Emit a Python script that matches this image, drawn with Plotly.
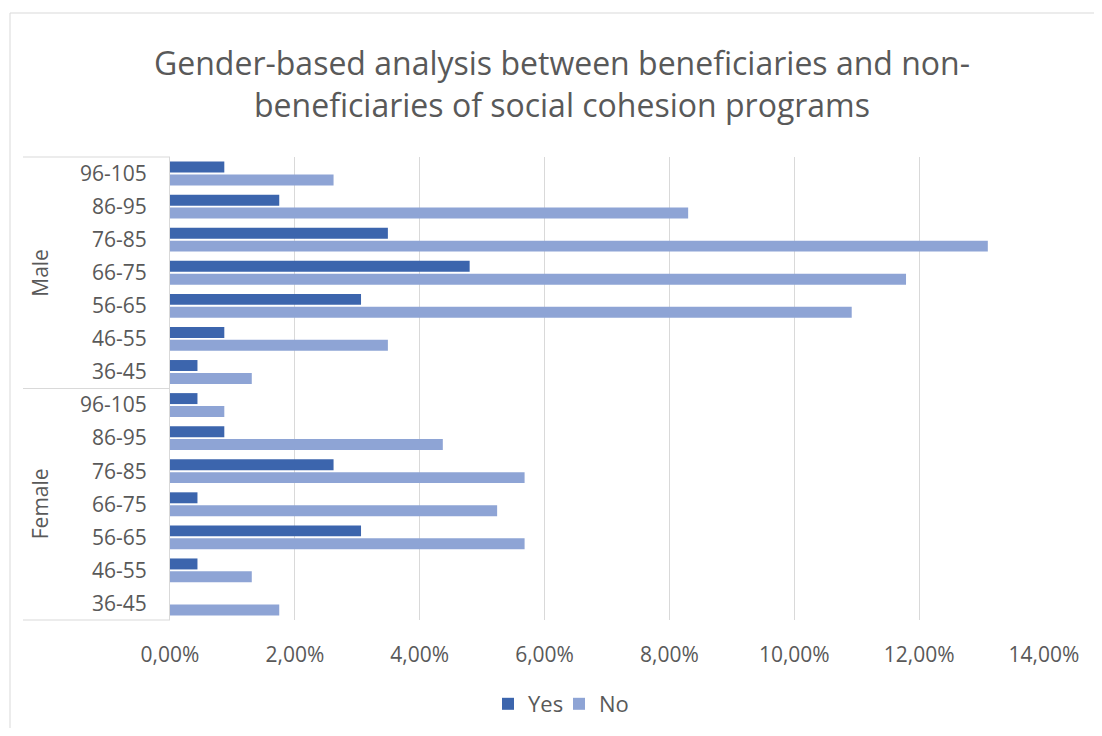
import plotly.graph_objects as go

ages = ["36-45", "46-55", "56-65", "66-75", "76-85", "86-95", "96-105"]
genders = ["Female", "Male"]

yes_female = [0.0000, 0.0044, 0.0306, 0.0044, 0.0262, 0.0087, 0.0044]
no_female = [0.0175, 0.0131, 0.0568, 0.0524, 0.0568, 0.0437, 0.0087]
yes_male = [0.0044, 0.0087, 0.0306, 0.0480, 0.0349, 0.0175, 0.0087]
no_male = [0.0131, 0.0349, 0.1092, 0.1179, 0.1310, 0.0830, 0.0262]

cats = [f"{g}|{a}" for g in genders for a in ages]
labels = [a for g in genders for a in ages]
yes_vals = yes_female + yes_male
no_vals = no_female + no_male

YES_C = "#3C65AD"
NO_C = "#8EA4D5"
TXT = "#595959"
FONT = "Open Sans, Liberation Sans, sans-serif"

fig = go.Figure()
fig.add_trace(go.Bar(y=cats, x=no_vals, orientation="h", name="No",
                     marker=dict(color=NO_C, line=dict(width=0)), legendrank=2))
fig.add_trace(go.Bar(y=cats, x=yes_vals, orientation="h", name="Yes",
                     marker=dict(color=YES_C, line=dict(width=0)), legendrank=1))

OFF = 8  # page body margin
W, H = 1102 - 2 * OFF, 736 - 2 * OFF
PL, PR, PT, PB = 170, 1044, 157, 620
L = PL - OFF
T = PT - OFF
R = W - (PR - OFF)
B = H - (PB - OFF)
pw = W - L - R
ph = H - T - B

def px_x(p):
    return (p - OFF - L) / pw

def px_y(p):
    return 1 - (p - OFF - T) / ph

def cx(p):
    return (p - OFF) / W

def cy(p):
    return 1 - (p - OFF) / H

shapes = []
shapes.append(dict(type="rect", xref="paper", yref="paper",
                   x0=px_x(10), x1=px_x(1101), y0=px_y(740), y1=px_y(13),
                   line=dict(color="#D9D9D9", width=1), fillcolor="rgba(0,0,0,0)", layer="below"))
for yy in [1, 0.5, 0]:
    shapes.append(dict(type="line", xref="paper", yref="paper",
                       x0=px_x(23), x1=0, y0=yy, y1=yy,
                       line=dict(color="#D9D9D9", width=1)))

annotations = [
    dict(text="Male", xref="paper", yref="paper", x=px_x(40), y=0.75,
         xanchor="center", yanchor="middle",
         showarrow=False, textangle=-90, font=dict(size=21, color=TXT, family=FONT)),
    dict(text="Female", xref="paper", yref="paper", x=px_x(40), y=0.25,
         xanchor="center", yanchor="middle",
         showarrow=False, textangle=-90, font=dict(size=21, color=TXT, family=FONT)),
]

fig.update_layout(
    width=W, height=H,
    margin=dict(l=L, r=R, t=T, b=B, autoexpand=False),
    paper_bgcolor="white", plot_bgcolor="white",
    barmode="group", bargap=0.22, bargroupgap=0.15,
    separators=", ",
    font=dict(family=FONT, color=TXT, size=21),
    title=dict(text="Gender-based analysis between beneficiaries and non-<br>beneficiaries of social cohesion programs",
               x=cx(562), xref="container", xanchor="center",
               y=cy(75), yref="container", yanchor="middle",
               font=dict(size=32, color=TXT, family=FONT)),
    xaxis=dict(range=[0, 0.14], dtick=0.02, tickformat=".2%", showgrid=True,
               gridcolor="#D9D9D9", gridwidth=1, zeroline=False, showline=False,
               ticks="", tickfont=dict(size=21, color=TXT), ticklabelstandoff=20),
    yaxis=dict(type="category", categoryorder="array", categoryarray=cats,
               tickmode="array", tickvals=cats, ticktext=labels,
               showline=True, linecolor="#D9D9D9", linewidth=1, showgrid=False,
               ticks="", tickfont=dict(size=21, color=TXT), ticklabelstandoff=18),
    legend=dict(orientation="h", xref="container", yref="container",
                x=cx(559), xanchor="center", y=cy(704), yanchor="middle",
                font=dict(size=22, color=TXT), itemwidth=30, traceorder="normal",
                entrywidth=26, entrywidthmode="pixels", tracegroupgap=0),
    shapes=shapes,
    annotations=annotations,
)

fig.write_html("out.html")
